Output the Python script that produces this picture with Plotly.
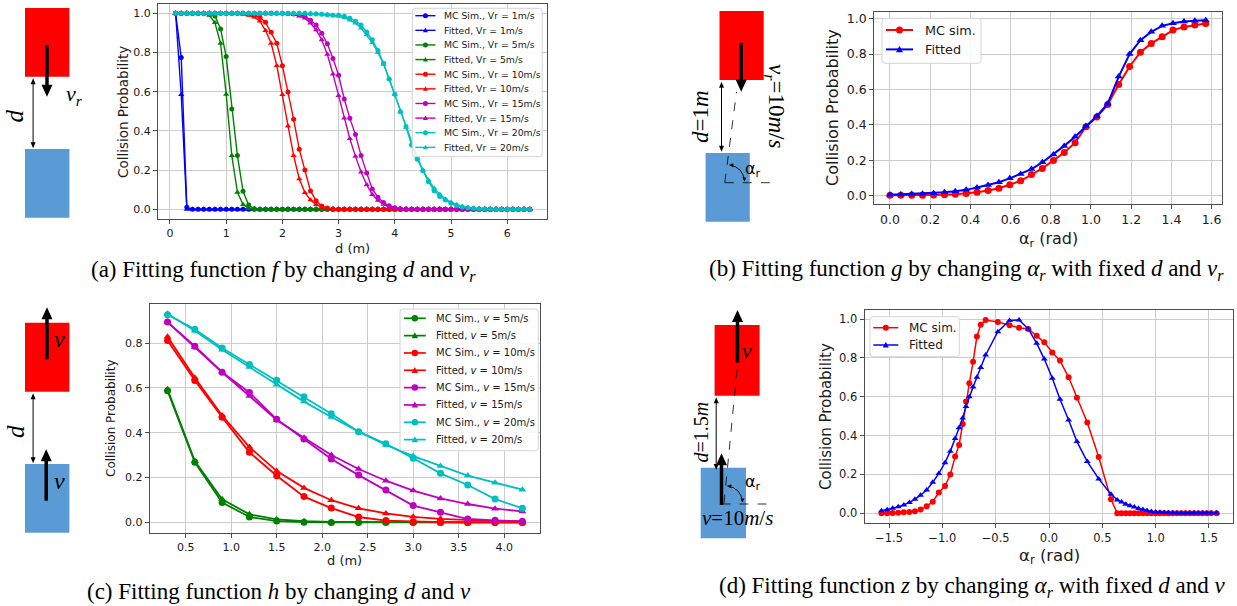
import math
import plotly.graph_objects as go

W, H = 1237, 606


def X(p):
    return p / W


def Y(p):
    return 1 - p / H


# ------------------------------------------------------------------ data (a)
d_a = [0.1, 0.2, 0.3, 0.4, 0.5, 0.6, 0.7, 0.8, 0.9, 1.0,
       1.1, 1.2, 1.3, 1.4, 1.5, 1.6, 1.7, 1.8, 1.9, 2.0,
       2.1, 2.2, 2.3, 2.4, 2.5, 2.6, 2.7, 2.8, 2.9, 3.0,
       3.1, 3.2, 3.3, 3.4, 3.5, 3.6, 3.7, 3.8, 3.9, 4.0,
       4.1, 4.2, 4.3, 4.4, 4.5, 4.6, 4.7, 4.8, 4.9, 5.0,
       5.1, 5.2, 5.3, 5.4, 5.5, 5.6, 5.7, 5.8, 5.9, 6.0,
       6.1, 6.2, 6.3, 6.4]

mc_vr1 = [1.0, 0.775, 0.01, 0, 0, 0, 0, 0, 0, 0,
          0, 0, 0, 0, 0, 0, 0, 0, 0, 0,
          0, 0, 0, 0, 0, 0, 0, 0, 0, 0,
          0, 0, 0, 0, 0, 0, 0, 0, 0, 0,
          0, 0, 0, 0, 0, 0, 0, 0, 0, 0,
          0, 0, 0, 0, 0, 0, 0, 0, 0, 0,
          0, 0, 0, 0]
fit_vr1 = [1.0, 0.585, 0.0, 0, 0, 0, 0, 0, 0, 0,
           0, 0, 0, 0, 0, 0, 0, 0, 0, 0,
           0, 0, 0, 0, 0, 0, 0, 0, 0, 0,
           0, 0, 0, 0, 0, 0, 0, 0, 0, 0,
           0, 0, 0, 0, 0, 0, 0, 0, 0, 0,
           0, 0, 0, 0, 0, 0, 0, 0, 0, 0,
           0, 0, 0, 0]
mc_vr5 = [1, 1, 1, 1, 1, 1, 1.0, 0.986, 0.92, 0.779,
          0.512, 0.274, 0.092, 0.022, 0.003, 0, 0, 0, 0, 0,
          0, 0, 0, 0, 0, 0, 0, 0, 0, 0,
          0, 0, 0, 0, 0, 0, 0, 0, 0, 0,
          0, 0, 0, 0, 0, 0, 0, 0, 0, 0,
          0, 0, 0, 0, 0, 0, 0, 0, 0, 0,
          0, 0, 0, 0]
fit_vr5 = [1, 1, 1, 1, 1, 0.998, 0.99, 0.952, 0.847, 0.587,
           0.274, 0.087, 0.024, 0.005, 0.001, 0, 0, 0, 0, 0,
           0, 0, 0, 0, 0, 0, 0, 0, 0, 0,
           0, 0, 0, 0, 0, 0, 0, 0, 0, 0,
           0, 0, 0, 0, 0, 0, 0, 0, 0, 0,
           0, 0, 0, 0, 0, 0, 0, 0, 0, 0,
           0, 0, 0, 0]
mc_vr10 = [1, 1, 1, 1, 1, 1, 1, 1, 1, 1,
           1, 1, 0.999, 0.997, 0.99, 0.98, 0.954, 0.903, 0.847, 0.733,
           0.599, 0.459, 0.306, 0.2, 0.094, 0.043, 0.017, 0.006, 0.002, 0,
           0, 0, 0, 0, 0, 0, 0, 0, 0, 0,
           0, 0, 0, 0, 0, 0, 0, 0, 0, 0,
           0, 0, 0, 0, 0, 0, 0, 0, 0, 0,
           0, 0, 0, 0]
fit_vr10 = [1, 1, 1, 1, 1, 1, 1, 1, 1, 1,
            1, 0.999, 0.995, 0.99, 0.98, 0.96, 0.912, 0.847, 0.733, 0.585,
            0.425, 0.274, 0.155, 0.085, 0.048, 0.024, 0.01, 0.004, 0.001, 0,
            0, 0, 0, 0, 0, 0, 0, 0, 0, 0,
            0, 0, 0, 0, 0, 0, 0, 0, 0, 0,
            0, 0, 0, 0, 0, 0, 0, 0, 0, 0,
            0, 0, 0, 0]
mc_vr15 = [1, 1, 1, 1, 1, 1, 1, 1, 1, 1,
           1, 1, 1, 1, 1, 1, 1, 1, 1, 1,
           0.999, 0.997, 0.993, 0.985, 0.965, 0.94, 0.898, 0.845, 0.77, 0.684,
           0.563, 0.464, 0.381, 0.274, 0.185, 0.104, 0.061, 0.035, 0.018, 0.008,
           0.003, 0.001, 0, 0, 0, 0, 0, 0, 0, 0,
           0, 0, 0, 0, 0, 0, 0, 0, 0, 0,
           0, 0, 0, 0]
fit_vr15 = [1, 1, 1, 1, 1, 1, 1, 1, 1, 1,
            1, 1, 1, 1, 1, 1, 1, 0.999, 0.999, 0.998,
            0.997, 0.993, 0.985, 0.975, 0.95, 0.915, 0.865, 0.79, 0.69, 0.58,
            0.465, 0.36, 0.27, 0.19, 0.125, 0.075, 0.045, 0.025, 0.012, 0.006,
            0.003, 0.001, 0, 0, 0, 0, 0, 0, 0, 0,
            0, 0, 0, 0, 0, 0, 0, 0, 0, 0,
            0, 0, 0, 0]
mc_vr20 = [1, 1, 1, 1, 1, 1, 1, 1, 1, 1,
           1, 1, 1, 1, 1, 1, 1, 1, 1, 1,
           1, 1, 1, 1, 0.998, 0.997, 0.995, 0.993, 0.99, 0.99,
           0.985, 0.975, 0.96, 0.94, 0.905, 0.865, 0.81, 0.745, 0.665, 0.587,
           0.498, 0.422, 0.327, 0.255, 0.197, 0.141, 0.095, 0.065, 0.048, 0.031,
           0.019, 0.012, 0.007, 0.004, 0.002, 0.001, 0.001, 0, 0, 0,
           0, 0, 0, 0]
fit_vr20 = [1, 1, 1, 1, 1, 1, 1, 1, 1, 1,
            1, 1, 1, 1, 1, 1, 1, 1, 1, 1,
            1, 1, 1, 1, 0.999, 0.998, 0.996, 0.993, 0.99, 0.985,
            0.978, 0.965, 0.95, 0.925, 0.89, 0.85, 0.8, 0.74, 0.665, 0.585,
            0.5, 0.415, 0.335, 0.265, 0.2, 0.15, 0.108, 0.077, 0.053, 0.036,
            0.024, 0.016, 0.01, 0.007, 0.004, 0.003, 0.002, 0.001, 0.001, 0,
            0, 0, 0, 0]

# ------------------------------------------------------------------ data (b)
alpha_b = [0.0, 0.054, 0.108, 0.162, 0.217, 0.271, 0.325, 0.379, 0.433, 0.488,
           0.542, 0.596, 0.650, 0.704, 0.758, 0.813, 0.867, 0.921, 0.975, 1.029,
           1.083, 1.138, 1.192, 1.246, 1.300, 1.354, 1.408, 1.463, 1.517, 1.571]
mc_b = [0.003, 0.003, 0.003, 0.004, 0.005, 0.006, 0.009, 0.013, 0.02, 0.03,
        0.043, 0.063, 0.085, 0.12, 0.155, 0.2, 0.245, 0.3, 0.39, 0.445,
        0.515, 0.628, 0.73, 0.81, 0.86, 0.897, 0.935, 0.953, 0.964, 0.972]
fit_b = [0.006, 0.008, 0.01, 0.012, 0.015, 0.02, 0.026, 0.034, 0.047, 0.062,
         0.077, 0.099, 0.123, 0.151, 0.189, 0.234, 0.282, 0.333, 0.394, 0.45,
         0.52, 0.673, 0.80, 0.878, 0.925, 0.959, 0.974, 0.983, 0.987, 0.99]

# ------------------------------------------------------------------ data (c)
d_c = [0.3, 0.6, 0.9, 1.2, 1.5, 1.8, 2.1, 2.4, 2.7, 3.0, 3.3, 3.6, 3.9, 4.2]
mc_v5 = [0.587, 0.268, 0.089, 0.024, 0.006, 0.001, 0, 0, 0, 0, 0, 0, 0, 0]
fit_v5 = [0.594, 0.274, 0.103, 0.036, 0.013, 0.005, 0.002, 0.001, 0, 0, 0, 0, 0, 0]
mc_v10 = [0.812, 0.633, 0.469, 0.313, 0.208, 0.115, 0.064, 0.024, 0.008, 0.003, 0.001, 0, 0, 0]
fit_v10 = [0.829, 0.645, 0.477, 0.336, 0.229, 0.154, 0.099, 0.063, 0.04, 0.025, 0.016, 0.01, 0.006, 0.004]
mc_v15 = [0.894, 0.786, 0.670, 0.58, 0.46, 0.372, 0.283, 0.211, 0.144, 0.075, 0.045, 0.015, 0.009, 0.005]
fit_v15 = [0.894, 0.782, 0.67, 0.564, 0.457, 0.378, 0.301, 0.238, 0.186, 0.142, 0.107, 0.082, 0.061, 0.049]
mc_v20 = [0.927, 0.862, 0.778, 0.705, 0.634, 0.561, 0.485, 0.405, 0.351, 0.286, 0.219, 0.167, 0.104, 0.063]
fit_v20 = [0.931, 0.855, 0.77, 0.693, 0.614, 0.539, 0.47, 0.405, 0.346, 0.296, 0.252, 0.209, 0.177, 0.146]

# ------------------------------------------------------------------ data (d)
alpha_d = [-1.571, -1.518, -1.466, -1.414, -1.361, -1.309, -1.257, -1.204, -1.147, -1.09,
           -1.033, -0.975, -0.925, -0.88, -0.843, -0.809, -0.778, -0.747, -0.712, -0.676,
           -0.64, -0.594, -0.48, -0.37, -0.281, -0.194, -0.115, -0.044, 0.031, 0.103,
           0.184, 0.262, 0.359, 0.466, 0.581, 0.64, 0.68, 0.72, 0.76, 0.8,
           0.84, 0.88, 0.92, 0.96, 1.0, 1.04, 1.08, 1.12, 1.16, 1.2,
           1.24, 1.28, 1.32, 1.36, 1.4, 1.44, 1.48, 1.52, 1.571]
mc_d = [0.0, 0.0, 0.002, 0.003, 0.005, 0.007, 0.01, 0.019, 0.036, 0.06,
        0.107, 0.14, 0.2, 0.292, 0.352, 0.46, 0.575, 0.669, 0.78, 0.91,
        0.97, 0.995, 0.985, 0.968, 0.955, 0.949, 0.914, 0.88, 0.828, 0.786,
        0.70, 0.595, 0.467, 0.29, 0.072, 0.0, 0, 0, 0, 0,
        0, 0, 0, 0, 0, 0, 0, 0, 0, 0,
        0, 0, 0, 0, 0, 0, 0, 0, 0]
fit_d = [0.013, 0.018, 0.026, 0.034, 0.043, 0.056, 0.072, 0.093, 0.12, 0.16,
         0.205, 0.26, 0.32, 0.385, 0.44, 0.49, 0.55, 0.6, 0.65, 0.70,
         0.75, 0.815, 0.935, 0.993, 0.995, 0.949, 0.875, 0.794, 0.695, 0.587,
         0.48, 0.369, 0.266, 0.177, 0.098, 0.069, 0.058, 0.047, 0.039, 0.032,
         0.025, 0.019, 0.014, 0.009, 0.007, 0.005, 0.004, 0.003, 0.003, 0.002,
         0.002, 0.002, 0.001, 0.001, 0.001, 0.001, 0.001, 0.001, 0.001]

# tick labels
ticks_a_x = [0, 1, 2, 3, 4, 5, 6]
ticks_01 = [0.0, 0.2, 0.4, 0.6, 0.8, 1.0]
ticks_b_x = [0.0, 0.2, 0.4, 0.6, 0.8, 1.0, 1.2, 1.4, 1.6]
ticks_c_x = [0.5, 1.0, 1.5, 2.0, 2.5, 3.0, 3.5, 4.0]
ticks_c_y = [0.0, 0.2, 0.4, 0.6, 0.8]
ticks_d_x = [-1.5, -1.0, -0.5, 0.0, 0.5, 1.0, 1.5]

legend_a = ["MC Sim., Vr = 1m/s", "Fitted, Vr = 1m/s", "MC Sim., Vr = 5m/s", "Fitted, Vr = 5m/s",
            "MC Sim., Vr = 10m/s", "Fitted, Vr = 10m/s", "MC Sim., Vr = 15m/s", "Fitted, Vr = 15m/s",
            "MC Sim., Vr = 20m/s", "Fitted, Vr = 20m/s"]
legend_c = ["MC Sim., <i>v</i> = 5m/s", "Fitted, <i>v</i> = 5m/s", "MC Sim., <i>v</i> = 10m/s",
            "Fitted, <i>v</i> = 10m/s", "MC Sim., <i>v</i> = 15m/s", "Fitted, <i>v</i> = 15m/s",
            "MC Sim., <i>v</i> = 20m/s", "Fitted, <i>v</i> = 20m/s"]
legend_bd = ["MC sim.", "Fitted"]

BLUE, GREEN, RED, MAG, CYAN = "#0000ff", "#008000", "#ff0000", "#bf00bf", "#00bfbf"
RECT_BLUE = "#5b9bd5"
SANS = "DejaVu Sans"
SERIF = "Liberation Serif"
TXT = "#1a1a1a"

# ------------------------------------------------------------------ figure
fig = go.Figure()
shapes = []
annos = []

GEOM = {
    1: dict(x0=157.9, x1=547.4, y0=3.5, y1=219.1),
    2: dict(x0=874.2, x1=1221.5, y0=12.0, y1=204.4),
    3: dict(x0=149.8, x1=540.1, y0=303.6, y1=532.8),
    4: dict(x0=864.7, x1=1233.3, y0=310.3, y1=523.0),
}


def axis_common(fs):
    return dict(showgrid=True, gridcolor="#cccccc", gridwidth=1, showline=True,
                linecolor="#4d4d4d", linewidth=1.1, mirror=True, ticks="outside",
                ticklen=4, tickwidth=1, tickcolor="#4d4d4d", zeroline=False,
                tickfont=dict(family=SANS, size=fs, color=TXT), automargin=False,
                fixedrange=True, tickmode="array")


def set_axes(n, xr, yr, xt, yt, xfmt, yfmt, fs):
    g = GEOM[n]
    s = "" if n == 1 else str(n)
    xa = dict(domain=[X(g["x0"]), X(g["x1"])], range=xr, anchor="y" + s,
              tickvals=xt, tickformat=xfmt, **axis_common(fs))
    ya = dict(domain=[Y(g["y1"]), Y(g["y0"])], range=yr, anchor="x" + s,
              tickvals=yt, tickformat=yfmt, **axis_common(fs))
    fig.update_layout(**{"xaxis" + s: xa, "yaxis" + s: ya})


def series(n, x, y, color, symbol, size, lw):
    s = "" if n == 1 else str(n)
    fig.add_trace(go.Scatter(x=x, y=y, mode="lines+markers",
                             line=dict(color=color, width=lw),
                             marker=dict(symbol=symbol, size=size, color=color),
                             xaxis="x" + s, yaxis="y" + s, showlegend=False,
                             hoverinfo="skip"))


def text(s, x, y, size, family=SANS, angle=0, color=TXT, xanchor="center"):
    annos.append(dict(text=s, x=X(x), y=Y(y), xref="paper", yref="paper",
                      showarrow=False, textangle=angle, xanchor=xanchor,
                      yanchor="middle", font=dict(family=family, size=size, color=color)))


def poly(pts, color):
    path = "M " + " L ".join(f"{X(a):.6f},{Y(b):.6f}" for a, b in pts) + " Z"
    shapes.append(dict(type="path", xref="paper", yref="paper", path=path,
                       fillcolor=color, line=dict(width=0), layer="above"))


def seg(x0, y0, x1, y1, color="black", width=1, dash="solid"):
    shapes.append(dict(type="line", xref="paper", yref="paper", x0=X(x0), y0=Y(y0),
                       x1=X(x1), y1=Y(y1), line=dict(color=color, width=width, dash=dash),
                       layer="above"))


def head(xh, yh, ux, uy, hw, hl):
    nx, ny = -uy, ux
    bx, by = xh - hl * ux, yh - hl * uy
    poly([(xh, yh), (bx + nx * hw / 2, by + ny * hw / 2), (bx - nx * hw / 2, by - ny * hw / 2)], "black")


def arrow(xt, yt, xh, yh, width, hw, hl, both=False):
    L = math.hypot(xh - xt, yh - yt)
    ux, uy = (xh - xt) / L, (yh - yt) / L
    sx, sy = xt, yt
    if both:
        sx, sy = xt + ux * hl * 0.8, yt + uy * hl * 0.8
        head(xt, yt, -ux, -uy, hw, hl)
    seg(sx, sy, xh - ux * hl * 0.8, yh - uy * hl * 0.8, width=width)
    head(xh, yh, ux, uy, hw, hl)


def rect(x0, y0, x1, y1, color):
    shapes.append(dict(type="rect", xref="paper", yref="paper", x0=X(x0), x1=X(x1),
                       y0=Y(y1), y1=Y(y0), fillcolor=color, line=dict(width=0),
                       layer="above"))


def curve(p0, c, p1):
    shapes.append(dict(type="path", xref="paper", yref="paper",
                       path=(f"M {X(p0[0]):.6f},{Y(p0[1]):.6f} Q {X(c[0]):.6f},{Y(c[1]):.6f} "
                             f"{X(p1[0]):.6f},{Y(p1[1]):.6f}"),
                       line=dict(color="black", width=0.9), layer="above"))


def rrect_path(x0, y0, x1, y1, r):
    def p(a, b):
        return f"{X(a):.6f},{Y(b):.6f}"
    return ("M " + p(x0 + r, y0) + " L " + p(x1 - r, y0) + " Q " + p(x1, y0) + " " + p(x1, y0 + r) +
            " L " + p(x1, y1 - r) + " Q " + p(x1, y1) + " " + p(x1 - r, y1) +
            " L " + p(x0 + r, y1) + " Q " + p(x0, y1) + " " + p(x0, y1 - r) +
            " L " + p(x0, y0 + r) + " Q " + p(x0, y0) + " " + p(x0 + r, y0) + " Z")


def legend(box, labels, colors, symbols, y0, dy, lx0, lx1, tx, fs, msize, lw):
    shapes.append(dict(type="path", xref="paper", yref="paper",
                       path=rrect_path(box[0], box[1], box[2], box[3], 3),
                       fillcolor="rgba(255,255,255,0.85)", line=dict(color="#d4d4d4", width=1),
                       layer="above"))
    for i, lab in enumerate(labels):
        yy = y0 + i * dy
        c = colors[i]
        seg(lx0, yy, lx1, yy, color=c, width=lw)
        mx = (lx0 + lx1) / 2
        r = msize / 2
        if symbols[i] == "circle":
            shapes.append(dict(type="circle", xref="paper", yref="paper",
                               x0=X(mx - r), x1=X(mx + r), y0=Y(yy + r), y1=Y(yy - r),
                               fillcolor=c, line=dict(width=0), layer="above"))
        else:
            poly([(mx, yy - r * 1.05), (mx - r, yy + r * 0.8), (mx + r, yy + r * 0.8)], c)
        text(lab, tx, yy, fs, xanchor="left")


# ---------------- panel (a)
set_axes(1, [-0.215, 6.715], [-0.05, 1.05], ticks_a_x, ticks_01, "d", ".1f", 11)
cols_a = [BLUE, GREEN, RED, MAG, CYAN]
pairs_a = [(mc_vr1, fit_vr1), (mc_vr5, fit_vr5), (mc_vr10, fit_vr10),
           (mc_vr15, fit_vr15), (mc_vr20, fit_vr20)]
for c, (mc, ft) in zip(cols_a, pairs_a):
    series(1, d_a, mc, c, "circle", 5, 1.4)
    series(1, d_a, ft, c, "triangle-up", 5.5, 1.4)

# ---------------- panel (b)
set_axes(2, [-0.0785, 1.6493], [-0.048, 1.037], ticks_b_x, ticks_01, ".1f", ".1f", 12.5)
series(2, alpha_b, mc_b, RED, "circle", 7, 2)
series(2, alpha_b, fit_b, BLUE, "triangle-up", 7, 2)

# ---------------- panel (c)
set_axes(3, [0.105, 4.395], [-0.0465, 0.9765], ticks_c_x, ticks_c_y, ".1f", ".1f", 11)
cols_c = [GREEN, RED, MAG, CYAN]
pairs_c = [(mc_v5, fit_v5), (mc_v10, fit_v10), (mc_v15, fit_v15), (mc_v20, fit_v20)]
for c, (mc, ft) in zip(cols_c, pairs_c):
    series(3, d_c, mc, c, "circle", 7, 1.8)
    series(3, d_c, ft, c, "triangle-up", 7, 1.8)

# ---------------- panel (d)
set_axes(4, [-1.728, 1.728], [-0.05, 1.045], ticks_d_x, ticks_01, ".1f", ".1f", 11.5)
series(4, alpha_d, mc_d, RED, "circle", 6, 1.5)
series(4, alpha_d, fit_d, BLUE, "triangle-up", 6, 1.5)

# ---------------- axis titles
text("Collision Probability", 123, 112, 13.5, angle=-90)
text("d (m)", 352.6, 248, 13)
text("Collision Probability", 833, 108, 16, angle=-90)
text("α<sub>r</sub> (rad)", 1048, 239, 16)
text("Collision Probability", 111, 418, 12, angle=-90)
text("d (m)", 345, 560, 13)
text("Collision Probability", 826, 417, 15, angle=-90)
text("α<sub>r</sub> (rad)", 1049, 556, 16.5)

# ---------------- legends
sym2 = ["circle", "triangle-up"]
legend((412.3, 8.3, 542.2, 156.7), legend_a,
       [c for c in cols_a for _ in (0, 1)], sym2 * 5,
       15.7, 14.63, 415.4, 435.5, 442.4, 9.3, 5, 1.4)
legend((882, 18.3, 981, 63.3), legend_bd, [RED, BLUE], sym2,
       30, 19.4, 886, 913, 923, 12.8, 7, 2)
legend((400, 309, 538.3, 450.7), legend_c,
       [c for c in cols_c for _ in (0, 1)], sym2 * 4,
       318.3, 17.33, 403.9, 425.8, 434.3, 10, 6.5, 1.7)
legend((870, 316.7, 959.3, 356.7), legend_bd, [RED, BLUE], sym2,
       327.7, 17.3, 873.3, 898.3, 907.3, 12, 6, 1.5)

# ---------------- diagrams
TH_W, TH_HW, TH_HL = 3.5, 11, 12
TN_W, TN_HW, TN_HL = 1, 5, 6

# (a)
rect(25, 8, 69.4, 76.7, RED)
rect(25, 149, 69.4, 217.7, RECT_BLUE)
arrow(47, 45, 47, 96.7, TH_W, TH_HW, TH_HL)
arrow(33.1, 148.3, 33.1, 78.3, TN_W, TN_HW, TN_HL, both=True)
text("<i>v<sub>r</sub></i>", 74, 95, 22, family=SERIF, color="black")
text("<i>d</i>", 15.4, 116, 25, family=SERIF, angle=-90, color="black")

# (b)
rect(719.5, 11, 763.7, 80, RED)
rect(705.6, 153, 749.8, 221.7, RECT_BLUE)
arrow(741.2, 42.7, 741.2, 91.7, TH_W, TH_HW, TH_HL)
arrow(721.5, 151.7, 721.5, 81.7, TN_W, TN_HW, TN_HL, both=True)
seg(724.8, 182.7, 736.5, 92, width=0.8, dash="dash")
seg(724.8, 182.7, 776, 182.7, width=0.8, dash="dash")
curve((729.5, 165), (743, 167), (744.5, 181))
head(729.3, 165, -1, -0.05, 4, 4)
head(744.6, 181.5, 0.05, 1, 4, 4)
text("α<sub>r</sub>", 753, 170, 16, color="black")
text("<i>d</i>=1<i>m</i>", 701, 117, 23, family=SERIF, angle=-90, color="black")
text("<i>v<sub>r</sub></i>=10<i>m</i>/<i>s</i>", 775, 106, 23, family=SERIF, angle=90, color="black")

# (c)
rect(25, 322.7, 69.4, 391.7, RED)
rect(25, 464, 69.4, 532.7, RECT_BLUE)
arrow(47, 359.3, 47, 307.3, TH_W, TH_HW, TH_HL)
arrow(46.2, 500.7, 46.2, 449.3, TH_W, TH_HW, TH_HL)
arrow(33.1, 463.3, 33.1, 393.3, TN_W, TN_HW, TN_HL, both=True)
text("<i>v</i>", 60, 339, 24, family=SERIF, color="black")
text("<i>v</i>", 59, 481, 24, family=SERIF, color="black")
text("<i>d</i>", 15.4, 431.7, 25, family=SERIF, angle=-90, color="black")

# (d)
rect(714.6, 325, 759.6, 395.7, RED)
rect(700.7, 467.7, 746, 538.3, RECT_BLUE)
arrow(737.5, 362.7, 737.5, 310, TH_W, TH_HW, TH_HL)
arrow(721.5, 505, 721.5, 453.3, TH_W, TH_HW, TH_HL)
arrow(716.2, 470, 716.2, 397.3, TN_W, TN_HW, TN_HL, both=True)
seg(724, 503.5, 737.5, 365, width=0.8, dash="dash")
seg(721.5, 504, 774, 504, width=0.8, dash="dash")
curve((727.5, 486), (741, 488), (742.5, 502))
head(727.3, 486, -1, -0.05, 4, 4)
head(742.6, 502.5, 0.05, 1, 4, 4)
text("α<sub>r</sub>", 753, 482, 16, color="black")
text("<i>v</i>", 747, 350, 22, family=SERIF, color="black")
text("<i>d</i>=1.5<i>m</i>", 700, 432.5, 20, family=SERIF, angle=-90, color="black")
text("<i>v</i>=10<i>m</i>/<i>s</i>", 737.3, 517.5, 21, family=SERIF, color="black")

# ---------------- captions
text("(a) Fitting function <i>f</i> by changing <i>d</i> and <i>v<sub>r</sub></i>",
     283, 271, 23, family=SERIF, color="black")
text("(b) Fitting function <i>g</i> by changing <i>α<sub>r</sub></i> with fixed <i>d</i> and <i>v<sub>r</sub></i>",
     966, 270, 23, family=SERIF, color="black")
text("(c) Fitting function <i>h</i> by changing <i>d</i> and <i>v</i>",
     279.4, 591, 23, family=SERIF, color="black")
text("(d) Fitting function <i>z</i> by changing <i>α<sub>r</sub></i> with fixed <i>d</i> and <i>v</i>",
     972.4, 586.7, 23, family=SERIF, color="black")

fig.update_layout(width=W, height=H, autosize=False,
                  margin=dict(l=0, r=0, t=0, b=0, pad=0),
                  paper_bgcolor="white", plot_bgcolor="rgba(0,0,0,0)",
                  showlegend=False, shapes=shapes, annotations=annos,
                  font=dict(family=SANS, color=TXT))

fig.write_html("out.html", config={"displayModeBar": False})
